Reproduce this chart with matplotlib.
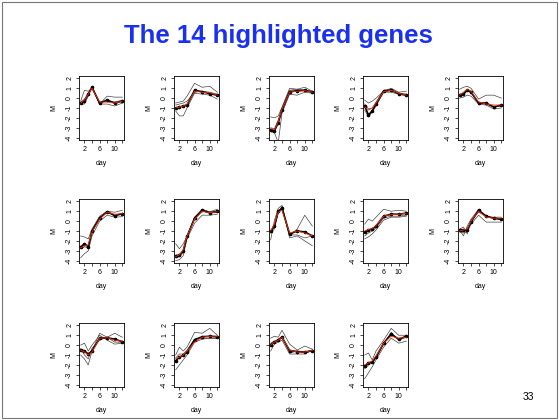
import matplotlib
matplotlib.use("Agg")
import matplotlib.pyplot as plt
from matplotlib.patches import Rectangle

plt.rcParams['font.family'] = ['Liberation Sans', 'DejaVu Sans']

# sampling days of the time course
days = [1, 2, 3, 4, 6, 8, 10, 12]

# mean profile (black, dots), fitted profile (red), replicate profiles (grey)
mean_M = [
    [-0.5, -0.3, 0.4, 1.1, -0.5, -0.2, -0.5, -0.3],
    [-1.0, -0.9, -0.8, -0.7, 0.8, 0.65, 0.45, 0.3],
    [-3.2, -3.3, -2.5, -1.2, 0.65, 0.75, 0.8, 0.6],
    [-0.8, -1.7, -1.3, -0.6, 0.7, 0.8, 0.45, 0.35],
    [0.3, 0.4, 0.8, 0.6, -0.5, -0.5, -0.9, -0.7],
    [-2.6, -2.3, -2.6, -1.0, 0.3, 0.95, 0.55, 0.75],
    [-3.5, -3.45, -3.0, -1.55, 0.3, 1.1, 0.85, 1.0],
    [-1.0, -0.5, 1.0, 1.3, -1.3, -1.0, -1.1, -1.5],
    [-1.1, -0.9, -0.8, -0.5, 0.5, 0.7, 0.7, 0.8],
    [-0.9, -0.9, -0.85, -0.1, 1.1, 0.5, 0.3, 0.2],
    [-0.45, -0.6, -0.9, -0.6, 0.7, 0.75, 0.6, 0.35],
    [-1.6, -1.2, -1.05, -0.7, 0.55, 0.85, 0.9, 0.85],
    [0.05, 0.3, 0.5, 0.8, -0.55, -0.65, -0.7, -0.55],
    [-2.1, -1.8, -1.7, -1.2, 0.2, 1.1, 0.6, 0.9],
]

fit_M = [
    [-0.5, -0.2, 0.4, 1.0, -0.4, -0.4, -0.5, -0.3],
    [-1.0, -0.9, -0.8, -0.6, 0.7, 0.6, 0.55, 0.3],
    [-3.1, -3.2, -2.4, -1.1, 0.6, 0.7, 0.75, 0.6],
    [-0.9, -1.2, -1.0, -0.5, 0.65, 0.8, 0.5, 0.3],
    [0.3, 0.6, 0.9, 0.7, -0.4, -0.6, -0.7, -0.7],
    [-2.7, -2.5, -2.4, -1.1, 0.2, 0.9, 0.7, 0.75],
    [-3.6, -3.4, -2.9, -1.5, 0.2, 1.0, 0.85, 0.95],
    [-1.0, -0.3, 0.9, 1.1, -1.2, -1.0, -1.2, -1.5],
    [-1.0, -0.85, -0.75, -0.45, 0.5, 0.65, 0.7, 0.8],
    [-1.0, -0.9, -0.8, 0.0, 1.0, 0.4, 0.3, 0.3],
    [-0.5, -0.7, -1.0, -0.7, 0.7, 0.75, 0.5, 0.4],
    [-1.4, -1.2, -1.0, -0.6, 0.3, 0.8, 0.9, 0.9],
    [0.0, 0.3, 0.5, 0.8, -0.5, -0.7, -0.7, -0.55],
    [-2.0, -1.8, -1.6, -1.1, 0.2, 0.9, 0.7, 0.8],
]

reps_M = [
    [[-0.3, 0.8, 0.7, 1.0, -0.6, 0.2, 0.1, 0.1],
     [-0.6, -0.6, 0.2, 1.1, -0.6, -0.6, -0.8, -0.5],
     [-0.4, -0.1, 0.5, 1.0, -0.4, -0.3, -0.4, -0.2]],
    [[-0.5, -0.4, -0.3, 0.2, 1.5, 1.1, 1.2, 0.6],
     [-1.3, -1.8, -1.8, -1.0, 0.5, 0.4, 0.3, -0.1],
     [-0.7, -0.6, -0.5, -0.3, 0.6, 0.7, 0.6, 0.4]],
    [[-1.9, -2.0, -1.8, -0.9, 1.0, 0.9, 1.1, 0.7],
     [-3.4, -3.5, -4.5, -1.5, 0.4, 0.3, 0.6, 0.5],
     [-3.0, -3.1, -2.2, -1.0, 0.8, 0.9, 0.8, 0.7]],
    [[-0.2, -0.5, -0.3, 0.0, 0.7, 1.0, 0.6, 0.7],
     [-1.2, -1.9, -1.4, -0.8, 0.6, 0.6, 0.4, 0.2],
     [-0.6, -1.1, -1.0, -0.4, 0.8, 0.9, 0.5, 0.3]],
    [[0.9, 1.1, 1.2, 1.0, -0.1, 0.3, 0.3, 0.0],
     [0.0, 0.1, 0.3, 0.2, -0.6, -0.7, -1.1, -1.0],
     [0.4, 0.5, 0.9, 0.7, -0.5, -0.6, -0.9, -0.8]],
    [[-1.5, -1.6, -1.8, -0.8, 0.5, 1.0, 0.9, 1.1],
     [-3.7, -3.3, -3.0, -1.5, 0.0, 0.6, 0.4, 0.45],
     [-2.8, -2.6, -2.7, -1.1, 0.3, 1.0, 0.6, 0.8]],
    [[-2.3, -2.8, -2.3, -1.5, 0.4, 1.2, 0.95, 1.2],
     [-4.0, -3.9, -3.5, -1.8, -0.2, 0.6, 0.6, 0.7],
     [-3.7, -3.6, -3.2, -1.6, 0.2, 1.0, 0.8, 0.9]],
    [[-1.9, 0.1, 1.3, 1.6, -1.5, -0.8, 0.6, -0.5],
     [-1.0, -0.6, 0.8, 1.5, -1.7, -1.5, -2.0, -2.5],
     [-1.2, -0.8, 1.0, 1.2, -1.4, -1.4, -1.7, -1.5]],
    [[-0.3, 0.2, 0.0, 0.4, 1.2, 1.0, 1.1, 1.0],
     [-1.8, -1.6, -1.3, -0.9, 0.1, 0.4, 0.4, 0.5],
     [-1.5, -1.2, -1.0, -0.7, 0.3, 0.5, 0.5, 0.6]],
    [[-0.9, -1.5, -0.5, 0.2, 1.2, 0.4, 0.4, 0.4],
     [-1.1, -1.2, -1.1, -0.3, 0.6, -0.1, -0.1, -0.1],
     [-0.8, -0.6, -1.3, 0.1, 0.9, 0.5, 0.3, 0.1]],
    [[-1.0, -1.4, -2.0, -0.6, 1.2, 0.8, 1.2, 0.8],
     [0.0, 0.2, -0.6, 0.0, 1.0, 0.5, 0.1, 0.2],
     [-0.4, -1.0, -1.4, -0.3, 0.5, 0.8, 0.3, 0.3]],
    [[-2.5, -2.0, -1.5, -1.0, 0.3, 0.6, 0.7, 0.7],
     [-1.0, -0.2, -0.6, -0.2, 1.3, 1.2, 1.7, 1.0],
     [-1.3, -0.9, -0.9, -0.5, 0.6, 0.7, 0.7, 0.7]],
    [[0.7, 0.9, 0.8, 1.5, 0.1, -0.5, -0.1, -0.4],
     [-0.6, 0.1, 0.3, 0.5, -0.9, -0.9, -0.9, -0.5],
     [0.2, 0.4, 0.6, 0.9, -0.8, -0.6, -0.8, -0.6]],
    [[-1.0, -0.8, -1.5, -0.6, 0.5, 1.7, 1.0, 1.0],
     [-3.4, -2.8, -2.2, -1.5, -0.2, 0.7, 0.2, 0.4],
     [-2.4, -2.0, -1.8, -1.3, 0.1, 1.3, 0.5, 0.8]],
]

x_ticks = [2, 4, 6, 8, 10, 12]
x_ticklabels = ["2", "", "6", "", "10", ""]
y_ticks = [-4, -3, -2, -1, 0, 1, 2]

W, H = 559, 420
fig = plt.figure(figsize=(W / 100, H / 100), dpi=100)

fig.text(278 / W, 1 - 36 / H, "The 14 highlighted genes", ha="center", va="center",
         fontsize=18.5, fontweight="bold", color="#1a30f0")
fig.text(528 / W, 1 - 397 / H, "33", ha="center", va="center", fontsize=7.5)
fig.patches.append(Rectangle((2 / W, 2 / H), 1 - 4 / W, 1 - 4 / H, transform=fig.transFigure,
                             fill=False, edgecolor="#777777", linewidth=0.8))

col_left = [79, 174, 269, 363, 458]
row_top = [76, 199, 323]
box_w, box_h = 45, 64

for k in range(len(mean_M)):
    r, c = divmod(k, 5)
    ax = fig.add_axes([col_left[c] / W, 1 - (row_top[r] + box_h) / H, box_w / W, box_h / H])
    for rep in reps_M[k]:
        ax.plot(days, rep, color="#444444", lw=0.5)
    ax.plot(days, mean_M[k], color="black", lw=1.2, marker="o", ms=1.6)
    ax.plot(days, fit_M[k], color="#ff2a00", lw=0.6)
    ax.set_xlim(0.56, 12.44)
    ax.set_ylim(-4.24, 2.24)
    ax.set_xticks(x_ticks)
    ax.set_xticklabels(x_ticklabels)
    ax.set_yticks(y_ticks)
    ax.set_yticklabels([str(v) for v in y_ticks], rotation=90, va="center")
    ax.tick_params(labelsize=5, length=2.2, width=0.5, pad=2)
    for s in ax.spines.values():
        s.set_linewidth(0.6)
    ax.set_xlabel("day", fontsize=5, labelpad=5)
    ax.set_ylabel("M", fontsize=5, labelpad=6)

fig.savefig("out.png", dpi=100)
